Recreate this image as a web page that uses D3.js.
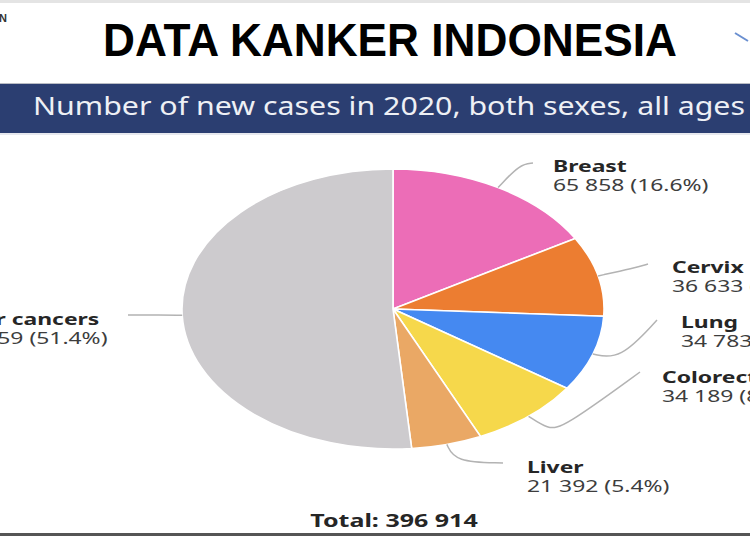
<!DOCTYPE html>
<html>
<head>
<meta charset="utf-8">
<script src="https://cdn.jsdelivr.net/npm/d3@7/dist/d3.min.js"></script>
<style>
  html, body { margin: 0; padding: 0; background: #ffffff; }
  svg { display: block; }
</style>
</head>
<body>
<svg id="chart" width="750" height="536"></svg>
<script>
// ---- data ----
const categories = ["Breast", "Cervix", "Lung", "Colorectum", "Liver", "Other cancers"];
const newCases   = [65858, 36633, 34783, 34189, 21392, 204059];
const sliceColors = ["#ec6db7", "#ec7d31", "#4589f1", "#f6d84b", "#eaa865", "#cdcbce"];
const titleText = "DATA KANKER INDONESIA";
const subtitleText = "Number of new cases in 2020, both sexes, all ages";
const totalCases = 396914;

// ---- layout ----
const W = 750, H = 536;
const cx = 393, cy = 309, rx = 211, ry = 140;
const textScaleX = 1.43;

// label layout: x, baseline y of first line, leader-line via points (after the pie edge point)
const labelLayout = {
  "Breast":        { x: 553, y: 172, via: [[520, 164], [533, 163]] },
  "Cervix":        { x: 672, y: 273, via: [[634, 268], [648, 264]] },
  "Lung":          { x: 681, y: 328, via: [[620, 360], [657, 320]] },
  "Colorectum":    { x: 662, y: 383, via: [[548, 429], [563, 428], [640, 372]] },
  "Liver":         { x: 527, y: 473, via: [[455, 462], [503, 463]] },
  "Other cancers": { x: -61, y: 325, via: [[150, 315], [128, 315]] }
};

const svg = d3.select("#chart");

// top strip
svg.append("rect").attr("x", 0).attr("y", 0).attr("width", W).attr("height", 3).attr("fill", "#e4e4e4");
svg.append("text").attr("x", -1).attr("y", 22).attr("font-family", "Liberation Sans, Arial, sans-serif")
  .attr("font-weight", "bold").attr("font-size", 11).attr("fill", "#333").text("N");
// small blue logo fragment top right
svg.append("path").attr("d", d3.line()([[735, 33], [748, 41]])).attr("stroke", "#6a8fd0")
  .attr("stroke-width", 2).attr("fill", "none");

// title
svg.append("text")
  .attr("x", 103).attr("y", 56)
  .attr("font-family", "Liberation Sans, Arial, sans-serif")
  .attr("font-weight", "bold").attr("font-size", 47)
  .attr("textLength", 574).attr("lengthAdjust", "spacingAndGlyphs")
  .attr("fill", "#000").text(titleText);

// subtitle band
svg.append("rect").attr("x", 0).attr("y", 83).attr("width", W).attr("height", 1).attr("fill", "#b9bcc4");
svg.append("rect").attr("x", 0).attr("y", 84).attr("width", W).attr("height", 49).attr("fill", "#2b3e71");
svg.append("rect").attr("x", 0).attr("y", 133).attr("width", W).attr("height", 2).attr("fill", "#e6e8ee");
svg.append("text")
  .attr("x", 33).attr("y", 115)
  .attr("font-family", "Noto Sans, sans-serif")
  .attr("font-size", 25)
  .attr("textLength", 712).attr("lengthAdjust", "spacingAndGlyphs")
  .attr("fill", "#eef0f5").text(subtitleText);

// ---- pie ----
const data = categories.map((c, i) => ({ name: c, value: newCases[i], color: sliceColors[i] }));
const total = d3.sum(newCases);
const pie = d3.pie().sort(null).value(d => d.value).startAngle(0).endAngle(2 * Math.PI);
const arcs = pie(data);
const arc = d3.arc().innerRadius(0).outerRadius(ry);

const pieG = svg.append("g").attr("transform", `translate(${cx},${cy}) scale(${rx / ry},1)`);
pieG.selectAll("path.slice")
  .data(arcs)
  .join("path")
  .attr("class", "slice")
  .attr("d", arc)
  .attr("fill", d => d.data.color)
  .attr("stroke", "#ffffff")
  .attr("stroke-width", 1.6)
  .attr("vector-effect", "non-scaling-stroke");

// ---- leader lines ----
const leader = d3.line().curve(d3.curveBasis);
const edgePoint = a => [cx + rx * Math.sin(a), cy - ry * Math.cos(a)];
svg.append("g").selectAll("path.leader")
  .data(arcs)
  .join("path")
  .attr("class", "leader")
  .attr("d", d => {
    const a = (d.startAngle + d.endAngle) / 2;
    const p0 = edgePoint(a);
    return leader([p0, ...labelLayout[d.data.name].via]);
  })
  .attr("fill", "none")
  .attr("stroke", "#b3b3b3")
  .attr("stroke-width", 1.5);

// ---- labels ----
const fmtNum = v => d3.format(",")(v).replace(/,/g, " ");
const labels = svg.append("g").attr("font-family", "Noto Sans, sans-serif").attr("font-size", 16);
arcs.forEach(d => {
  const L = labelLayout[d.data.name];
  labels.append("text")
    .attr("transform", `translate(${L.x},${L.y}) scale(${textScaleX},1)`)
    .attr("font-weight", "bold").attr("fill", "#262626")
    .text(d.data.name);
  labels.append("text")
    .attr("transform", `translate(${L.x},${L.y + 19}) scale(${textScaleX},1)`)
    .attr("fill", "#3d3d3d")
    .text(`${fmtNum(d.data.value)} (${(d.data.value / total * 100).toFixed(1)}%)`);
});

// total
svg.append("text")
  .attr("transform", `translate(${cx + 1},527) scale(${textScaleX},1)`)
  .attr("text-anchor", "middle")
  .attr("font-family", "Noto Sans, sans-serif")
  .attr("font-weight", "bold").attr("font-size", 17.5)
  .attr("fill", "#262626")
  .text(`Total: ${fmtNum(totalCases)}`);

// bottom dark line
svg.append("rect").attr("x", 0).attr("y", 533).attr("width", W).attr("height", 3).attr("fill", "#555");
</script>
</body>
</html>
